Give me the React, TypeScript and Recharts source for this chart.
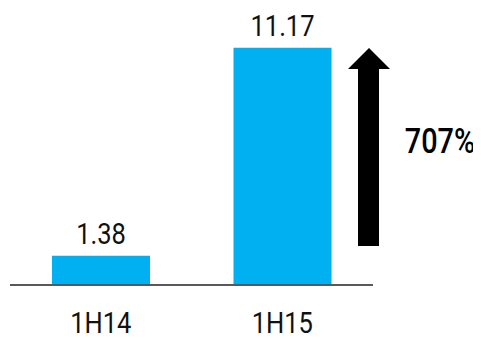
import React from "react";
import { BarChart, Bar, XAxis, YAxis, LabelList, Customized } from "recharts";

const categories = ["1H14", "1H15"];
const values = [1.38, 11.17];
const changeLabel = "707%";

const data = categories.map((c, i) => ({ name: c, value: values[i] }));

const FONT = "Roboto, 'Liberation Sans', sans-serif";
const SX = 0.88;

const Tick = (props: any) => {
  const { x, y, payload } = props;
  return (
    <text
      transform={`translate(${x},${y + 40}) scale(${SX},1)`}
      textAnchor="middle"
      fontFamily={FONT}
      fontSize={29}
      fill="#111"
    >
      {payload.value}
    </text>
  );
};

const ValueLabel = (props: any) => {
  const { x, y, width, value } = props;
  return (
    <text
      transform={`translate(${x + width / 2},${y - 12}) scale(${SX},1)`}
      textAnchor="middle"
      fontFamily={FONT}
      fontSize={29}
      fill="#111"
    >
      {value.toFixed(2)}
    </text>
  );
};

const Annotation = () => (
  <g>
    <polygon
      points="340,61 361,40 382,61 371,61 371,238 350,238 350,61"
      fill="#000"
    />
    <text
      transform={`translate(432,145) scale(0.8,1)`}
      textAnchor="middle"
      fontFamily={FONT}
      fontSize={36}
      fontWeight={500}
      fill="#000"
    >
      {changeLabel}
    </text>
  </g>
);

export default function App() {
  return (
    <div style={{ width: 473, height: 331 }}>
      <BarChart
        width={473}
        height={331}
        data={data}
        margin={{ top: 22, right: 108, bottom: 0, left: 2 }}
        barCategoryGap={42}
      >
        <XAxis
          dataKey="name"
          axisLine={{ stroke: "#595959", strokeWidth: 2 }}
          tickLine={false}
          tick={<Tick />}
          height={54}
          interval={0}
        />
        <YAxis hide domain={[0, 12]} />
        <Bar dataKey="value" fill="#00B0F0" isAnimationActive={false}>
          <LabelList dataKey="value" content={<ValueLabel />} />
        </Bar>
        <Customized component={Annotation} />
      </BarChart>
    </div>
  );
}
